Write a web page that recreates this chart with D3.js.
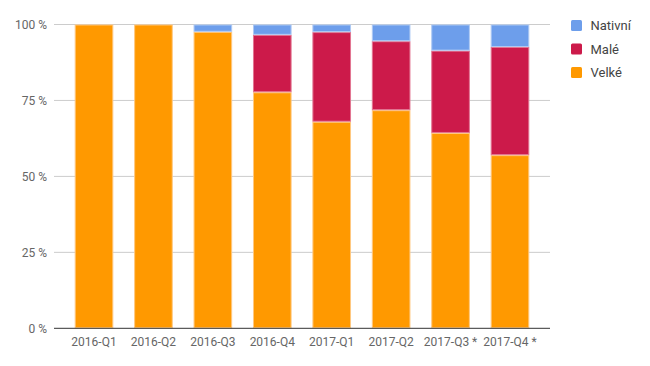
<!DOCTYPE html>
<html><head><meta charset="utf-8">
<script src="https://cdn.jsdelivr.net/npm/d3@7"></script>
<style>body{margin:0;background:#fff;font-family:Roboto,sans-serif}</style>
</head><body><svg id="c" width="650" height="366"></svg>
<script>
const categories = ["2016-Q1","2016-Q2","2016-Q3","2016-Q4","2017-Q1","2017-Q2","2017-Q3 *","2017-Q4 *"];
const velke   = [100, 100, 97.6, 77.7, 68.0, 71.8, 64.3, 57.0];
const male    = [0, 0, 0, 18.9, 29.5, 22.7, 27.1, 35.6];
const nativni = [0, 0, 2.4, 3.4, 2.5, 5.5, 8.6, 7.4];
const yTicks = [0, 25, 50, 75, 100];
const seriesNames = ["Velké","Malé","Nativní"];
const colors = {"Velké":"#ff9900","Malé":"#cc1a4a","Nativní":"#6d9eeb"};
const strokes = {"Velké":"#ffc880","Malé":"#e27592","Nativní":"#aec9f3"};

const svg = d3.select("#c");
const y = d3.scaleLinear().domain([0,100]).range([328.3,24.5]);
const x = d3.scaleBand().domain(categories).range([64.3,539.7]).paddingInner(0.35).paddingOuter(0.175);

// grid
svg.append("g").selectAll("line").data(yTicks.filter(d=>d>0)).join("line")
  .attr("x1",54).attr("x2",550).attr("y1",d=>y(d)).attr("y2",d=>y(d))
  .attr("stroke","#cccccc").attr("stroke-width",1);

const table = categories.map((c,i)=>({cat:c,"Velké":velke[i],"Malé":male[i],"Nativní":nativni[i]}));
const stacked = d3.stack().keys(seriesNames)(table);

stacked.forEach(s=>{
  svg.append("g").selectAll("rect").data(s.filter(d=>d[1]-d[0]>0)).join("rect")
    .attr("x",d=>x(d.data.cat)+0.5)
    .attr("width",x.bandwidth()-1)
    .attr("y",d=>y(d[1])+0.5)
    .attr("height",d=>Math.max(0,y(d[0])-y(d[1])-1))
    .attr("fill",colors[s.key])
    .attr("stroke",strokes[s.key]).attr("stroke-width",1);
});

// baseline
svg.append("line").attr("x1",54).attr("x2",550).attr("y1",y(0)).attr("y2",y(0))
  .attr("stroke","#333333").attr("stroke-width",1);

// y labels
svg.append("g").selectAll("text").data(yTicks).join("text")
  .attr("x",47).attr("y",d=>y(d)).attr("dy","0.35em").attr("text-anchor","end")
  .attr("font-size",12).attr("fill","#666").text(d=>d+" %");

// x labels
svg.append("g").selectAll("text").data(categories).join("text")
  .attr("x",d=>x(d)+x.bandwidth()/2).attr("y",346).attr("text-anchor","middle")
  .attr("font-size",12).attr("fill","#666").text(d=>d);

// legend
const legendOrder = ["Nativní","Malé","Velké"];
const lg = svg.append("g").selectAll("g").data(legendOrder).join("g")
  .attr("transform",(d,i)=>`translate(571,${25.5+i*23.5})`);
lg.append("rect").attr("x",0).attr("y",-5.5).attr("width",11).attr("height",11).attr("rx",1.5)
  .attr("fill",d=>colors[d]);
lg.append("text").attr("x",19.5).attr("dy","0.35em").attr("font-size",13).attr("fill","#444").text(d=>d);
</script></body></html>
